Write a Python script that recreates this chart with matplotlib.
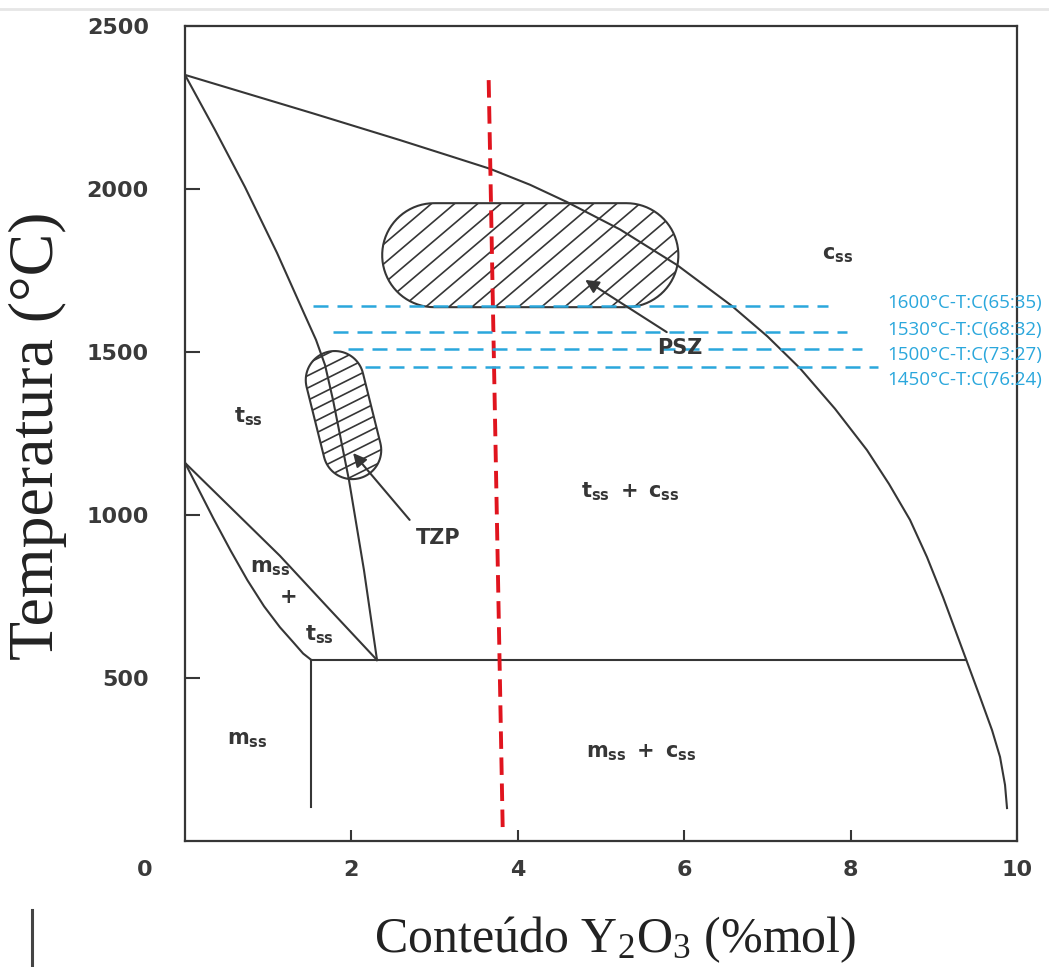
import numpy as np
import matplotlib
matplotlib.use("Agg")
import matplotlib.pyplot as plt
from matplotlib.patches import PathPatch
from matplotlib.path import Path
from matplotlib.lines import Line2D

# ---------------- data ----------------
# cubic (c_ss) boundary
c_bound_x = [0.0, 1.538, 2.584, 3.2, 3.666, 4.147, 4.591, 5.228, 5.913, 6.575, 7.0, 7.392,
             7.812, 8.197, 8.462, 8.714, 8.918, 9.111, 9.387, 9.555, 9.70, 9.796,
             9.856, 9.880]
c_bound_T = [2350, 2232, 2150, 2100, 2062, 2013, 1960, 1876, 1767, 1641, 1548, 1450,
             1326, 1199, 1095, 985, 871, 748, 558, 442, 340, 258,
             172, 101]
# t_ss / t_ss + c_ss boundary
t_bound_x = [0.0, 0.361, 0.721, 1.106, 1.430, 1.575, 1.683, 1.779, 1.971, 2.151, 2.308]
t_bound_T = [2350, 2181, 2006, 1804, 1619, 1537, 1460, 1353, 1107, 831, 555]
# m_ss / m_ss + t_ss boundary
m_bound_x = [0.0, 0.17, 0.34, 0.55, 0.75, 0.95, 1.14, 1.30, 1.42, 1.52]
m_bound_T = [1160, 1075, 990, 890, 800, 720, 656, 610, 575, 555]
# t_ss / m_ss + t_ss boundary
tm_bound_x = [0.0, 0.6, 1.14, 1.74, 2.308]
tm_bound_T = [1160, 1010, 875, 710, 555]
# eutectoid line and vertical m_ss boundary
eut_x = [1.52, 9.387]
eut_T = [555, 555]
vert_x = [1.52, 1.52]
vert_T = [555, 104]

# hatched regions (cap centres, data units)
psz_caps = [(2.995, 1797), (5.305, 1797)]
tzp_caps = [(1.80, 1414), (2.01, 1199)]

# red composition line
red_x = [3.65, 3.82]
red_T = [2334, 18]

# blue isotherms
iso_T = [1640, 1560, 1510, 1455]
iso_x0 = [1.54, 1.78, 1.96, 2.16]
iso_x1 = [7.73, 7.96, 8.14, 8.33]
iso_labels = ["1600°C-T:C(65:35)", "1530°C-T:C(68:32)",
              "1500°C-T:C(73:27)", "1450°C-T:C(76:24)"]
iso_label_T = [1650, 1567, 1491, 1414]

# region labels
regions = [
    (r"$\mathbf{c_{ss}}$", 7.84, 1797),
    (r"$\mathbf{t_{ss}}$", 0.76, 1303),
    (r"$\mathbf{t_{ss}\ +\ c_{ss}}$", 5.35, 1070),
    (r"$\mathbf{m_{ss}}$", 1.02, 837),
    (r"$\mathbf{+}$", 1.24, 748),
    (r"$\mathbf{t_{ss}}$", 1.62, 632),
    (r"$\mathbf{m_{ss}}$", 0.75, 310),
    (r"$\mathbf{m_{ss}\ +\ c_{ss}}$", 5.48, 270),
]
xticks = [2, 4, 6, 8, 10]
yticks = [500, 1000, 1500, 2000, 2500]

# ---------------- figure ----------------
plt.rcParams['mathtext.fontset'] = 'dejavusans'
W, H = 1049, 967
fig = plt.figure(figsize=(W / 100, H / 100), dpi=100)
L, R, B, T = 185, 1017, 841, 26
ax = fig.add_axes([L / W, 1 - B / H, (R - L) / W, (B - T) / H])
ax.set_xlim(0, 10)
ax.set_ylim(0, 2500)

ink = '#363636'
for s in ax.spines.values():
    s.set_color(ink)
    s.set_linewidth(1.6)

ax.set_xticks(xticks)
ax.set_xticklabels([str(v) for v in xticks])
ax.set_yticks(yticks)
ax.set_yticklabels([str(v) for v in yticks])
ax.tick_params(axis='both', direction='in', colors=ink, width=1.5,
               labelcolor='#3a3a3a', labelsize=16)
ax.tick_params(axis='y', length=11, pad=26)
ax.tick_params(axis='x', length=8, pad=14)
for lab in ax.get_xticklabels() + ax.get_yticklabels():
    lab.set_fontweight('bold')
fig.text(145 / W, 1 - 870 / H, '0', ha='center', va='center',
         fontsize=16, fontweight='bold', color='#3a3a3a')

lw = 1.5
ax.plot(c_bound_x, c_bound_T, color=ink, lw=lw)
ax.plot(t_bound_x, t_bound_T, color=ink, lw=lw)
ax.plot(m_bound_x, m_bound_T, color=ink, lw=lw)
ax.plot(tm_bound_x, tm_bound_T, color=ink, lw=lw)
ax.plot(eut_x, eut_T, color=ink, lw=lw)
ax.plot(vert_x, vert_T, color=ink, lw=lw)

# pixel scales
sx = (R - L) / 10.0          # px per x unit
sy = (B - T) / 2500.0        # px per degree


def capsule(caps, r_px, n=40):
    (x1, y1), (x2, y2) = caps
    p1 = np.array([x1 * sx, y1 * sy])
    p2 = np.array([x2 * sx, y2 * sy])
    d = p2 - p1
    ang = np.arctan2(d[1], d[0])
    a1 = np.linspace(ang + np.pi / 2, ang + 3 * np.pi / 2, n)
    a2 = np.linspace(ang - np.pi / 2, ang + np.pi / 2, n)
    pts = np.vstack([p1 + r_px * np.c_[np.cos(a1), np.sin(a1)],
                     p2 + r_px * np.c_[np.cos(a2), np.sin(a2)]])
    pts = np.vstack([pts, pts[:1]])
    return pts[:, 0] / sx, pts[:, 1] / sy


def hatched(caps, r_px, slope, spacing_px):
    xs, ys = capsule(caps, r_px)
    path = Path(np.c_[xs, ys])
    patch = PathPatch(path, facecolor='none', edgecolor=ink, lw=lw)
    ax.add_patch(patch)
    u = xs * sx
    v = ys * sy
    cmin = (v - slope * u).min()
    cmax = (v - slope * u).max()
    step = spacing_px * np.sqrt(1 + slope ** 2)
    uu = np.array([u.min() - 5, u.max() + 5])
    for c in np.arange(cmin + step / 2, cmax, step):
        ln, = ax.plot(uu / sx, (slope * uu + c) / sy, color=ink, lw=1.2)
        ln.set_clip_path(patch)


hatched(psz_caps, 52, 0.85, 15)
hatched(tzp_caps, 29, 0.5, 11)

# arrows
ax.annotate('', xy=(4.81, 1721), xytext=(5.79, 1561),
            arrowprops=dict(arrowstyle='-|>', color=ink, lw=1.5,
                            mutation_scale=20, shrinkA=0, shrinkB=0))
ax.annotate('', xy=(2.02, 1190), xytext=(2.70, 985),
            arrowprops=dict(arrowstyle='-|>', color=ink, lw=1.5,
                            mutation_scale=20, shrinkA=0, shrinkB=0))
ax.text(5.95, 1512, 'PSZ', fontsize=15, fontweight='bold', color=ink,
        ha='center', va='center')
ax.text(3.04, 929, 'TZP', fontsize=15, fontweight='bold', color=ink,
        ha='center', va='center')

for txt, x, y in regions:
    ax.text(x, y, txt, fontsize=15, color=ink, ha='center', va='center')

# red dashed composition line
ax.plot(red_x, red_T, color='#e0141e', lw=2.8, linestyle=(0, (4.5, 2.2)),
        solid_capstyle='butt', dash_capstyle='butt')

# blue dashed isotherms
blue = '#2aa7dc'
for Tv, x0, x1 in zip(iso_T, iso_x0, iso_x1):
    ax.plot([x0, x1], [Tv, Tv], color=blue, lw=1.8,
            linestyle=(0, (6, 3.6)), dash_capstyle='butt')
for lab, Tv in zip(iso_labels, iso_label_T):
    ax.text(8.44, Tv, lab, color=blue, fontsize=13.5, family='Open Sans',
            ha='left', va='center', clip_on=False)

# axis titles
fig.text(38 / W, 1 - 436 / H, 'Temperatura (°C)', rotation=90,
         family='Liberation Serif', fontsize=46, color='#222222',
         ha='center', va='center')
plt.rcParams['mathtext.fontset'] = 'custom'
plt.rcParams['mathtext.rm'] = 'Liberation Serif'
plt.rcParams['mathtext.it'] = 'Liberation Serif'
fig.text(615 / W, 1 - 940 / H, r'Conteúdo Y$\mathrm{_2}$O$\mathrm{_3}$ (%mol)',
         family='Liberation Serif', fontsize=36, color='#222222',
         ha='center', va='center')

# scan artefacts
fig.add_artist(Line2D([0, 1], [1 - 9 / H, 1 - 9 / H], color='#e6e6e6', lw=2))
fig.add_artist(Line2D([32 / W, 32 / W], [1 - 910 / H, 0], color='#444444', lw=2.2))

fig.savefig('out.png', dpi=100)
